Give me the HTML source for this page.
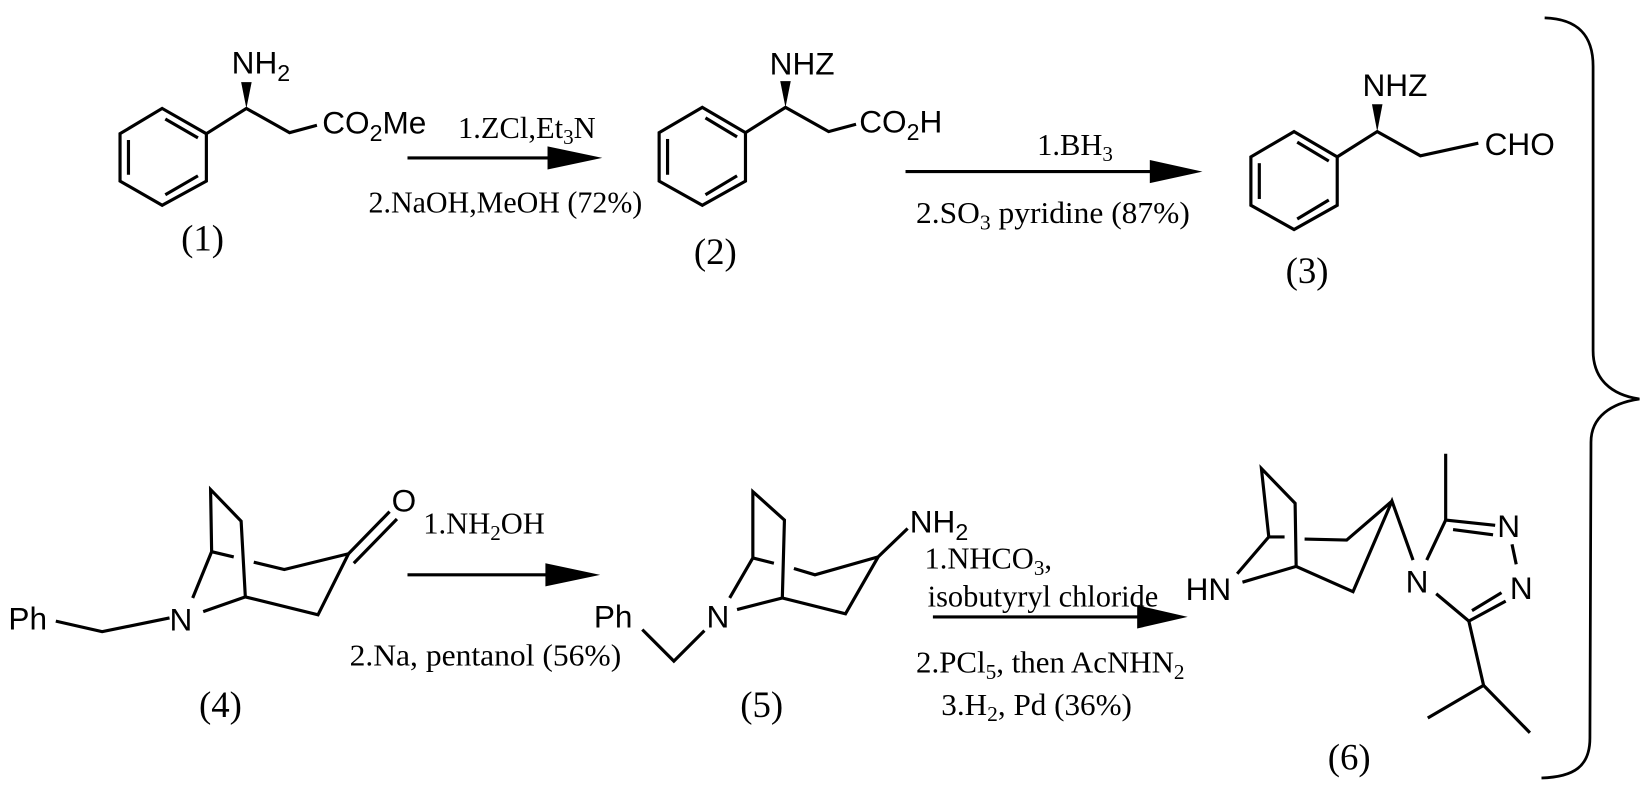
<!DOCTYPE html>
<html><head><meta charset="utf-8"><style>
html,body{margin:0;padding:0;background:#fff;}
svg{display:block;}
.s{font-family:"Liberation Sans",sans-serif;font-size:30px;fill:#000;}
.t{font-family:"Liberation Serif",serif;font-size:29px;fill:#000;}
.l{font-family:"Liberation Serif",serif;font-size:35px;fill:#000;}
</style></head><body>
<svg width="1651" height="798" viewBox="0 0 1568 758" preserveAspectRatio="none" xmlns="http://www.w3.org/2000/svg">
<g stroke="#000" stroke-width="3" fill="none" stroke-linejoin="miter">
<polygon points="154,103 196,127 196,172 154,195 114,172 114,127"/>
<line x1="157" y1="113" x2="188" y2="131"/>
<line x1="122" y1="133" x2="122" y2="166"/>
<line x1="157" y1="185" x2="188" y2="167"/>
<polyline points="196,127 234,103 275,126 301,119"/>
<polygon points="667,102 708,126 708,172 667,195 626,172 626,126"/>
<line x1="670" y1="112" x2="700" y2="130"/>
<line x1="634" y1="132" x2="634" y2="166"/>
<line x1="670" y1="185" x2="700" y2="167"/>
<polyline points="708,126 746,102 787,125 813,118"/>
<polygon points="1229,125 1270,149 1270,195 1229,218 1188,195 1188,149"/>
<line x1="1232" y1="135" x2="1262" y2="153"/>
<line x1="1196" y1="155" x2="1196" y2="189"/>
<line x1="1232" y1="208" x2="1262" y2="190"/>
<polyline points="1270,149 1308,125 1349,148 1404,136"/>
<line x1="387" y1="150" x2="530" y2="150"/>
<line x1="860" y1="163" x2="1100" y2="163"/>
<line x1="387" y1="546" x2="528" y2="546"/>
<line x1="886" y1="586" x2="1088" y2="586"/>
<polyline points="53,590 97,600 161,587"/>
<polyline points="183,568 201,524 200,465 229,495 233,567"/>
<line x1="201" y1="524" x2="222" y2="529"/>
<polyline points="241,534 270,541 331,526"/>
<polyline points="193,581 233,567 302,584 331,526"/>
<line x1="331" y1="526" x2="370" y2="486"/>
<line x1="336" y1="535" x2="377" y2="493"/>
<polyline points="610,598 640,628 669,599"/>
<polyline points="693,568 715,530 715,467 745,494 743,568"/>
<line x1="715" y1="530" x2="735" y2="535"/>
<polyline points="754,540 774,546 834,529"/>
<polyline points="700,579 743,568 803,583 834,529 862,502"/>
<polyline points="1175,545 1205,510 1198,445 1230,478 1231,538"/>
<line x1="1205" y1="510" x2="1220" y2="510"/>
<polyline points="1239,512 1279,513 1322,476"/>
<polyline points="1180,553 1231,538 1285,562 1322,476 1342,532"/>
<polyline points="1355,532 1373,494 1420,499"/>
<line x1="1373" y1="494" x2="1373" y2="431"/>
<line x1="1380" y1="503" x2="1418" y2="508"/>
<line x1="1436" y1="517" x2="1440" y2="536"/>
<polyline points="1364,564 1395,590 1430,571"/>
<line x1="1398" y1="580" x2="1426" y2="563"/>
<polyline points="1395,590 1409,651 1356,682"/>
<line x1="1409" y1="651" x2="1453" y2="696"/>
<path d="M1467,17 C1500,18 1513,35 1513,63 L1513,333 C1513,360 1530,375 1557,379 C1530,383 1511,396 1511,420 L1510,701 C1510,728 1495,738 1464,739" stroke-width="2.6"/>
</g>
<g fill="#000">
<polygon points="234,103 229,78 239,78"/>
<polygon points="746,102 741,77 751,77"/>
<polygon points="1308,125 1303,99 1313,99"/>
<polygon points="520,139 572,150 520,161"/>
<polygon points="1092,152 1142,163 1092,174"/>
<polygon points="518,535 570,546 518,557"/>
<polygon points="1080,575 1128,586 1080,597"/>
</g>
<text class="s" x="220" y="70">NH<tspan font-size="22" dy="7">2</tspan></text>
<text class="s" x="306" y="127">CO<tspan font-size="22" dy="7">2</tspan><tspan dy="-7">Me</tspan></text>
<text class="t" x="435" y="131" font-size="28">1.ZCl,Et<tspan font-size="20" dy="6">3</tspan><tspan dy="-6">N</tspan></text>
<text class="t" x="350" y="202" textLength="260" lengthAdjust="spacingAndGlyphs">2.NaOH,MeOH (72%)</text>
<text class="l" x="172" y="238">(1)</text>
<text class="s" x="731" y="71">NHZ</text>
<text class="s" x="816" y="126">CO<tspan font-size="22" dy="7">2</tspan><tspan dy="-7">H</tspan></text>
<text class="t" x="985" y="147">1.BH<tspan font-size="20" dy="6">3</tspan></text>
<text class="t" x="870" y="212" textLength="260" lengthAdjust="spacingAndGlyphs">2.SO<tspan font-size="20" dy="6">3</tspan><tspan dy="-6"> pyridine (87%)</tspan></text>
<text class="l" x="659" y="251">(2)</text>
<text class="s" x="1294" y="91">NHZ</text>
<text class="s" x="1410" y="147">CHO</text>
<text class="l" x="1221" y="269">(3)</text>
<text class="s" x="8" y="598">Ph</text>
<text class="s" x="161" y="599">N</text>
<text class="s" x="372" y="486">O</text>
<text class="t" x="402" y="507">1.NH<tspan font-size="20" dy="6">2</tspan><tspan dy="-6">OH</tspan></text>
<text class="t" x="332" y="632" textLength="258" lengthAdjust="spacingAndGlyphs">2.Na, pentanol (56%)</text>
<text class="l" x="189" y="681">(4)</text>
<text class="s" x="864" y="506">NH<tspan font-size="22" dy="7">2</tspan></text>
<text class="s" x="564" y="596">Ph</text>
<text class="s" x="671" y="596">N</text>
<text class="t" x="878" y="540">1.NHCO<tspan font-size="20" dy="6">3</tspan><tspan dy="-6">,</tspan></text>
<text class="t" x="881" y="576" textLength="219" lengthAdjust="spacingAndGlyphs">isobutyryl chloride</text>
<text class="t" x="870" y="639" textLength="255" lengthAdjust="spacingAndGlyphs">2.PCl<tspan font-size="20" dy="6">5</tspan><tspan dy="-6">, then AcNHN</tspan><tspan font-size="20" dy="6">2</tspan></text>
<text class="t" x="894" y="679" textLength="181" lengthAdjust="spacingAndGlyphs">3.H<tspan font-size="20" dy="6">2</tspan><tspan dy="-6">, Pd (36%)</tspan></text>
<text class="l" x="703" y="681">(5)</text>
<text class="s" x="1126" y="570">HN</text>
<text class="s" x="1335" y="563">N</text>
<text class="s" x="1422" y="510">N</text>
<text class="s" x="1434" y="569">N</text>
<text class="l" x="1261" y="731">(6)</text>
</svg>
</body></html>
